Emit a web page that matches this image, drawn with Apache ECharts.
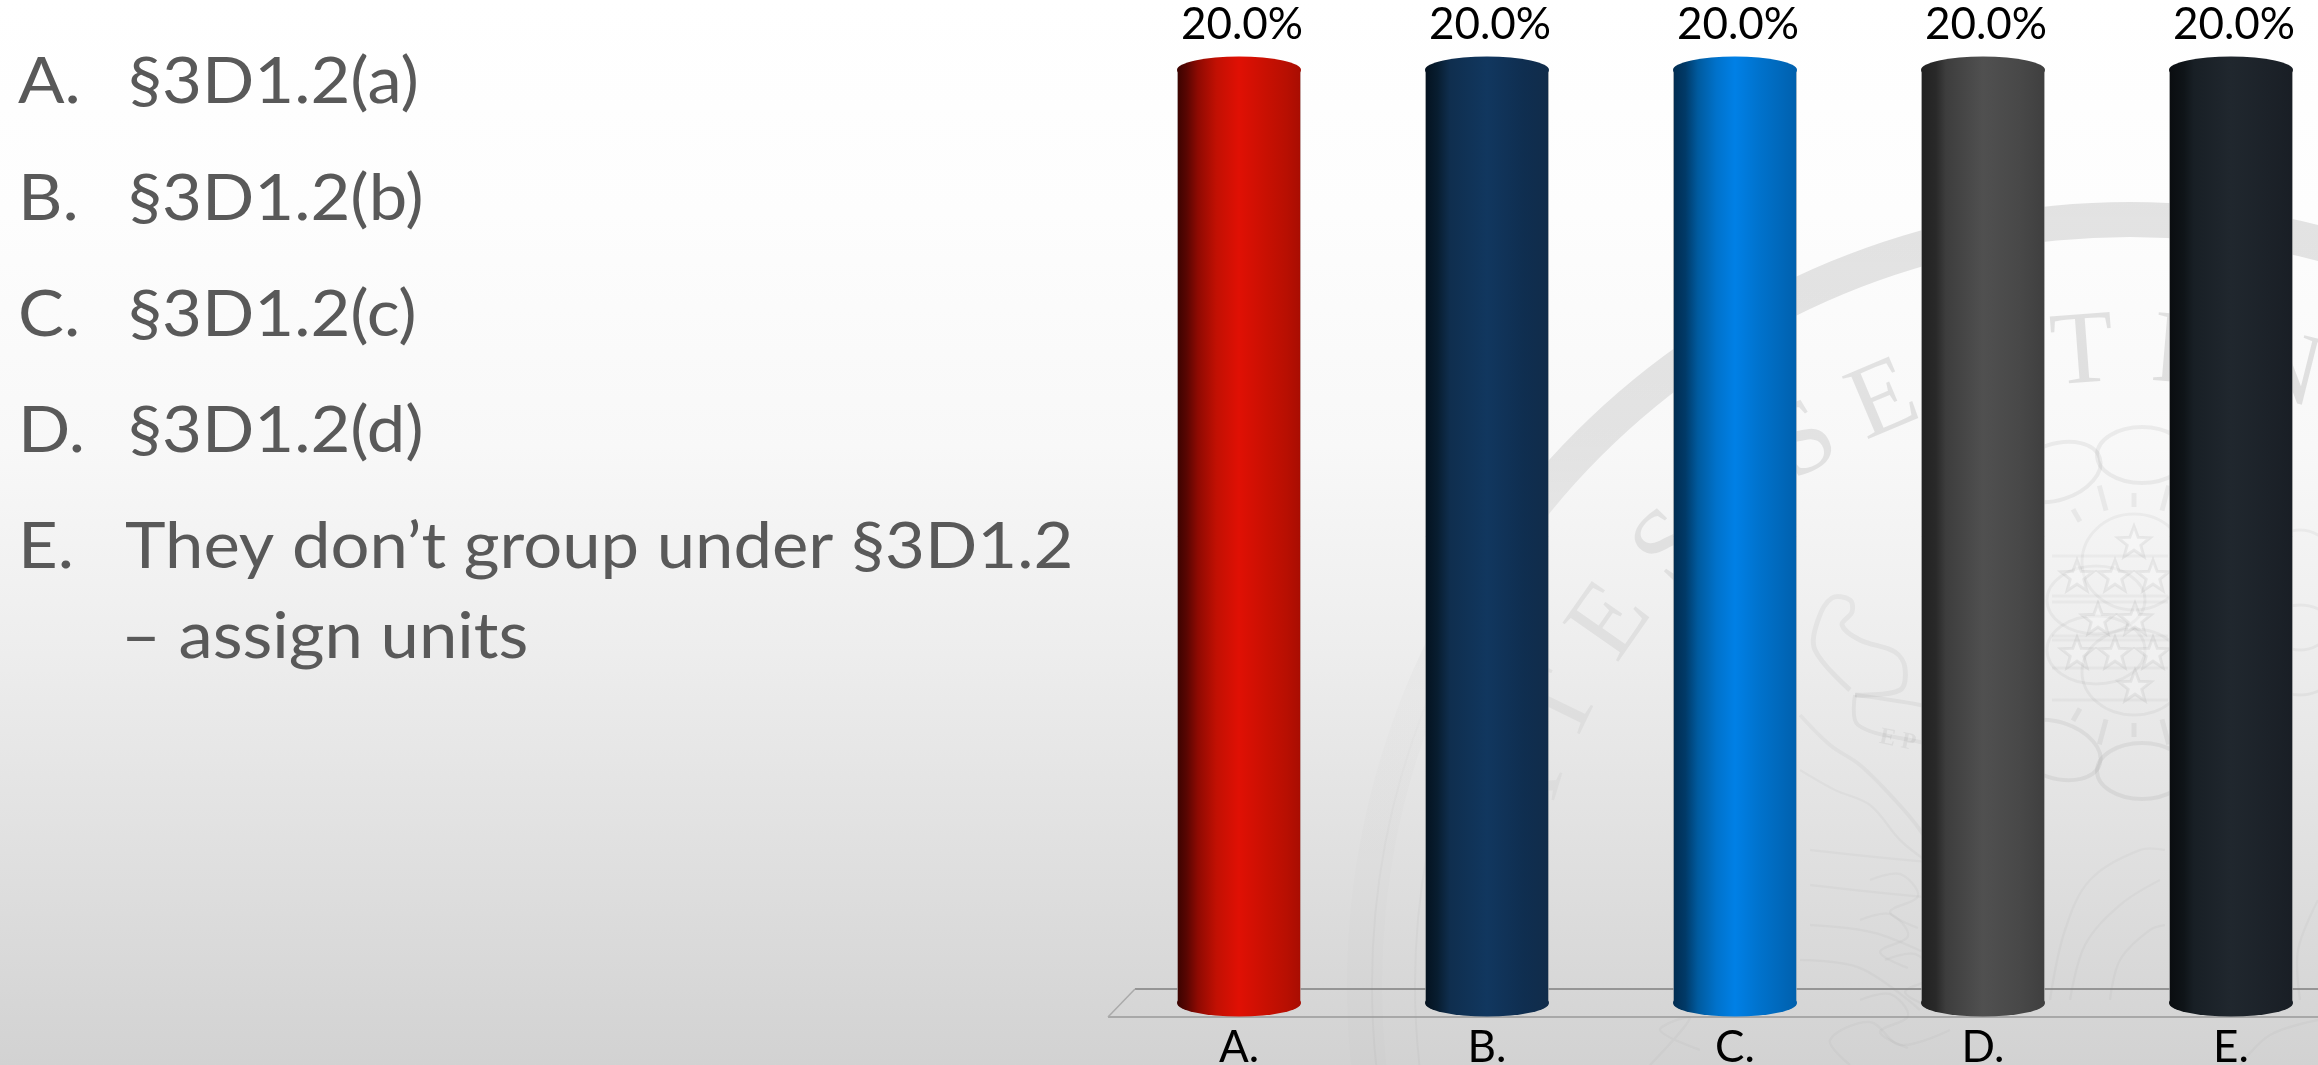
<!DOCTYPE html>
<html>
<head>
<meta charset="utf-8">
<style>html,body{margin:0;padding:0;width:2318px;height:1065px;overflow:hidden;background:#fff}#c{width:2318px;height:1065px}</style>
<script src="https://cdn.jsdelivr.net/npm/echarts@6/dist/echarts.min.js"></script>
</head>
<body>
<div id="c"></div>
<script>
const categories = ['A.', 'B.', 'C.', 'D.', 'E.'];
const values = [20, 20, 20, 20, 20];
const optionLetters = ['A.', 'B.', 'C.', 'D.', 'E.'];
const optionTexts = ['§3D1.2(a)', '§3D1.2(b)', '§3D1.2(c)', '§3D1.2(d)', 'They don’t group under §3D1.2'];
const optionContinuation = '– assign units';

const FONT = 'Lato';
const stops = [
  [[0,'#3a0300'],[.08,'#5a0602'],[.17,'#8f0a02'],[.32,'#c21003'],[.5,'#e01004'],[.72,'#c81002'],[.88,'#b80f02'],[1,'#a80d02']],
  [[0,'#04121f'],[.1,'#081d30'],[.2,'#0f2e4e'],[.5,'#11375f'],[.8,'#0f2e50'],[1,'#112c4a']],
  [[0,'#012c50'],[.1,'#013a68'],[.2,'#005a9e'],[.35,'#0072cb'],[.5,'#0080e6'],[.7,'#0072cc'],[1,'#0060ad']],
  [[0,'#212121'],[.12,'#292929'],[.2,'#3d3d3d'],[.5,'#505050'],[.8,'#484848'],[1,'#3f3f3f']],
  [[0,'#0a0d10'],[.12,'#0f1418'],[.2,'#181f25'],[.5,'#20272e'],[.8,'#1c2229'],[1,'#191e25']]
];
const grad = i => new echarts.graphic.LinearGradient(0,0,1,0,stops[i].map(s=>({offset:s[0],color:s[1]})));
const barData = values.map((v,i)=>({value:v,itemStyle:{color:grad(i)}}));

/* ---------- decorative watermark seal ---------- */
const CX=2130, CY=985;
const seal=[];
seal.push({type:'ring',shape:{cx:CX,cy:CY,r0:748,r:783},silent:true,
  style:{fill:new echarts.graphic.LinearGradient(0,0,0,1,[
    {offset:0,color:'rgba(0,0,0,.105)'},{offset:.16,color:'rgba(0,0,0,.085)'},
    {offset:.24,color:'rgba(0,0,0,.04)'},{offset:.32,color:'rgba(0,0,0,.012)'},{offset:1,color:'rgba(0,0,0,.006)'}])}});
const arcLetters=[['S',-91,.015],['T',-82,.025],['A',-73,.03],['T',-64,.045],['E',-55,.06],['S',-46.4,.075],
  ['S',-31,.085],['E',-22.9,.095],['N',-13.5,.1],['T',-4.3,.1],['E',4.9,.1],['N',14,.1]];
arcLetters.forEach(l=>{
  const a=l[1]*Math.PI/180, R=632;
  seal.push({type:'text',silent:true,x:CX+R*Math.sin(a),y:CY-R*Math.cos(a),rotation:-a,
    style:{text:l[0],fontFamily:'Liberation Serif',fontSize:104,fill:'rgba(0,0,0,'+l[2]+')',align:'center',verticalAlign:'middle'}});
});
const ink='rgba(0,0,0,.075)', fine='rgba(0,0,0,.022)';
const oval=(cx,cy,rx,ry,rot,c,w)=>({type:'ellipse',silent:true,x:cx,y:cy,rotation:(rot||0)*Math.PI/180,shape:{cx:0,cy:0,rx:rx,ry:ry},style:{fill:'none',stroke:c||ink,lineWidth:w||4}});
[[2142,455,45,28,0],[2056,472,46,28,18],[2142,771,45,28,0],[2056,750,46,28,-18]].forEach(o=>seal.push(oval(o[0],o[1],o[2],o[3],o[4],'rgba(0,0,0,.055)')));
[[2134,562,52,48],[2096,600,49,34],[2096,650,49,34],[2134,672,52,43],[2300,590,44,60],[2300,650,44,45]].forEach(o=>seal.push(oval(o[0],o[1],o[2],o[3],0,'rgba(0,0,0,.04)',3)));
for(let k=0;k<24;k++){const a=k*15*Math.PI/180;
  if(k%6===3) continue;
  seal.push({type:'line',silent:true,shape:{x1:2134+108*Math.sin(a),y1:615-108*Math.cos(a),x2:2134+(k%2?134:122)*Math.sin(a),y2:615-(k%2?134:122)*Math.cos(a)},style:{stroke:'rgba(0,0,0,.05)',lineWidth:5}});
}
const star=(cx,cy,r)=>{const pts=[];for(let i=0;i<10;i++){const q=i*Math.PI/5,rr=i%2?r*.42:r;pts.push([cx+rr*Math.sin(q),cy-rr*Math.cos(q)]);}
  return {type:'polygon',silent:true,shape:{points:pts},style:{fill:'rgba(255,255,255,.25)',stroke:'rgba(0,0,0,.055)',lineWidth:3}};};
[[2134,543],[2077,577],[2115,577],[2153,577],[2098,620],[2135,620],[2077,654],[2115,654],[2153,654],[2135,687]].forEach(s=>seal.push(star(s[0],s[1],17)));
[556,596,602,636,640,668,700].forEach(y=>seal.push({type:'line',silent:true,shape:{x1:2052,y1:y,x2:2168,y2:y},style:{stroke:'rgba(0,0,0,.03)',lineWidth:3}}));
const curve=(pts,c,w)=>({type:'polyline',silent:true,shape:{points:pts,smooth:.35},style:{stroke:c||fine,lineWidth:w||2.5,fill:'none'}});
seal.push(curve([[1850,690],[1815,650],[1818,620],[1832,598],[1850,600],[1852,612],[1842,625],[1860,640],[1895,652],[1905,668],[1900,690],[1855,695]],'rgba(0,0,0,.045)',5));
seal.push(curve([[1855,695],[1858,725],[1920,742],[2000,760]],'rgba(0,0,0,.045)',4));
seal.push(curve([[1855,695],[1920,705],[2000,725]],'rgba(0,0,0,.045)',4));
seal.push({type:'text',silent:true,x:1882,y:725,rotation:-.2,style:{text:'E P',fontFamily:'Liberation Serif',fontWeight:'bold',fontSize:24,fill:'rgba(0,0,0,.05)'}});
seal.push(curve([[1800,715],[1830,745],[1860,765],[1895,800],[1920,830],[1950,880],[1965,960]],'rgba(0,0,0,.03)',4));
seal.push(curve([[1800,770],[1835,790],[1870,805],[1900,840],[1925,860]],'rgba(0,0,0,.028)'));
[[1810,850,1960,865],[1810,885,1955,900],[1810,925,1940,960],[1800,960,1920,1010]].forEach(v=>seal.push(curve([[v[0],v[1]],[(v[0]+v[2])/2,v[1]+8],[v[2],v[3]]],fine)));
[[1870,880],[1860,920],[1885,960],[1860,1000]].forEach(p=>seal.push(curve([[p[0],p[1]],[p[0]+30,p[1]-6],[p[0]+48,p[1]+16],[p[0]+20,p[1]+32],[p[0]+48,p[1]+48]],fine)));
seal.push(curve([[2050,1000],[2065,930],[2090,880],[2140,850],[2165,850]],fine));
seal.push(curve([[2070,1000],[2085,945],[2120,905],[2160,880]],fine));
seal.push(curve([[2110,1000],[2120,960],[2150,930],[2165,925]],fine));
seal.push(curve([[2300,1000],[2298,950],[2318,900]],fine));
seal.push(curve([[1700,1050],[1660,1030],[1690,1018],[1650,1065]],fine));
seal.push(curve([[1850,1065],[1830,1040],[1870,1022],[1900,1045],[1950,1030]],fine));
seal.push(curve([[2240,1065],[2270,1035],[2318,1020]],fine));
const fadeIn=new echarts.graphic.LinearGradient(0,0,0,1,[{offset:0,color:'rgba(0,0,0,0)'},{offset:.25,color:'rgba(0,0,0,0)'},{offset:.45,color:'rgba(0,0,0,.028)'},{offset:1,color:'rgba(0,0,0,.028)'}]);
seal.push({type:'circle',silent:true,shape:{cx:CX,cy:CY,r:758},style:{fill:'none',stroke:fadeIn,lineWidth:2}});
seal.push({type:'circle',silent:true,shape:{cx:CX,cy:CY,r:715},style:{fill:'none',stroke:fadeIn,lineWidth:2}});

/* ---------- floor of the 3D plot ---------- */
const floor=[
  {type:'line',silent:true,shape:{x1:1135,y1:989,x2:2318,y2:989},style:{stroke:'#7f7f7f',lineWidth:1.5}},
  {type:'line',silent:true,shape:{x1:1108,y1:1017,x2:2318,y2:1017},style:{stroke:'#999999',lineWidth:1.5}},
  {type:'line',silent:true,shape:{x1:1108,y1:1017,x2:1135,y2:989},style:{stroke:'#aaaaaa',lineWidth:1.5}}
];

/* ---------- question text ---------- */
const baselines=[101,218,334,450,566];
const textEls=[];
const label=(s,x,base)=>({type:'text',silent:true,x:x,y:base-19,scaleX:1.075,
  style:{text:s,fontFamily:FONT,fontSize:64,fill:'#595959',align:'left',verticalAlign:'middle'}});
optionLetters.forEach((s,i)=>{textEls.push(label(s,18,baselines[i]));textEls.push(label(optionTexts[i],i===4?125:128,baselines[i]));});
textEls.push(label(optionContinuation,121,656));

const chart=echarts.init(document.getElementById('c'),null,{renderer:'canvas',width:2318,height:1065});
const capCommon={type:'pictorialBar',symbol:'circle',symbolSize:[124,27],barWidth:124,barGap:'-100%',silent:true,z:5,clip:false};
chart.setOption({
  animation:false,
  backgroundColor:new echarts.graphic.LinearGradient(0,0,0,1,[
    {offset:0,color:'#ffffff'},{offset:.2,color:'#fdfdfd'},{offset:.42,color:'#f8f8f8'},
    {offset:.6,color:'#eeeeee'},{offset:.8,color:'#e0e0e0'},{offset:1,color:'#d2d2d2'}]),
  graphic:{elements:[...seal,...floor,...textEls]},
  grid:{left:1239,right:87,top:70,bottom:62,containLabel:false,outerBoundsMode:'none'},
  xAxis:{type:'category',data:categories,boundaryGap:false,axisLine:{show:false},axisTick:{show:false},
    axisLabel:{color:'#000',fontFamily:FONT,fontSize:44,margin:23,interval:0,hideOverlap:false,showMinLabel:true,showMaxLabel:true}},
  yAxis:{type:'value',min:0,max:20,show:false,splitLine:{show:false}},
  series:[
    {type:'bar',data:barData,barWidth:124,barGap:'-100%',silent:true,z:4,clip:false,
      itemStyle:{borderColor:'rgba(190,190,190,.55)',borderWidth:1},
      label:{show:true,position:'top',distance:23,offset:[3,0],color:'#000',fontFamily:FONT,fontSize:44,
        formatter:p=>p.value.toFixed(1)+'%'}},
    {...capCommon,data:barData.map(d=>({value:d.value,itemStyle:d.itemStyle})),symbolPosition:'end',symbolOffset:[0,'-50%']},
    {...capCommon,data:barData.map(d=>({value:d.value,itemStyle:d.itemStyle})),symbolPosition:'start',symbolOffset:[0,'50%']}
  ]
});
</script>
</body>
</html>
